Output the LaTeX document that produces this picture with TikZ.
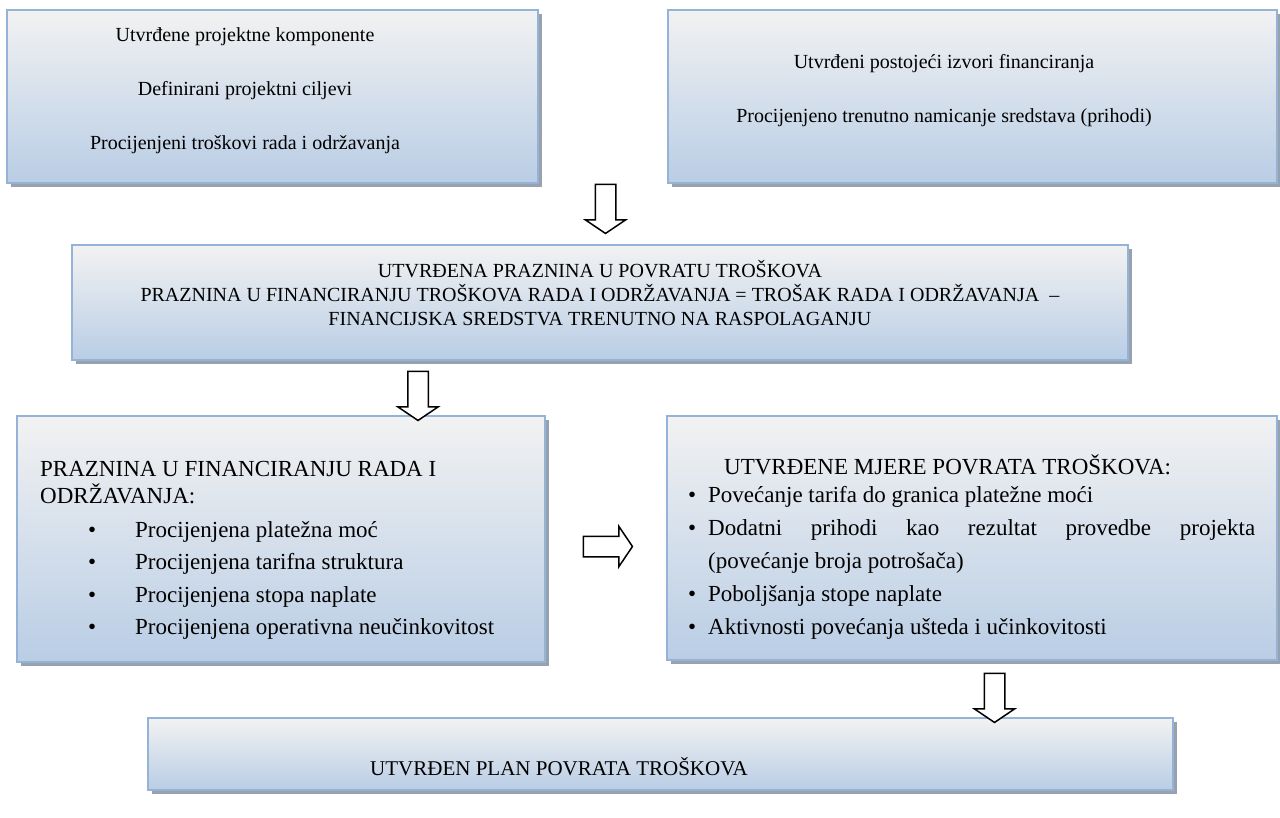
\documentclass[tikz,border=0pt]{standalone}
\usepackage{fontspec}
\setmainfont{Liberation Serif}
\usetikzlibrary{shapes.arrows,shadows}
\definecolor{bord}{HTML}{95B3D7}
\definecolor{gtop}{HTML}{F2F2F2}
\definecolor{gbot}{HTML}{B9CDE5}
\definecolor{shad}{HTML}{98A2AE}
\tikzset{
  gbox/.style={draw=bord, line width=2.5pt, top color=gtop, bottom color=gbot,
    inner sep=0pt, general shadow={fill=shad, shadow xshift=4pt, shadow yshift=-4pt}},
  ctxt/.style={inner sep=0pt, font=\fontsize{20}{24}\selectfont},
  ltxt/.style={inner sep=0pt, anchor=base west, font=\fontsize{23}{27}\selectfont},
  barrow/.style={single arrow, draw=black, line width=1.5pt, fill=white,
    inner xsep=0pt, inner ysep=9.5pt, minimum height=49pt, minimum width=39pt,
    single arrow head extend=10pt, single arrow tip angle=112}
}
\begin{document}
\begin{tikzpicture}[x=1pt,y=-1pt]
\useasboundingbox (0,0) rectangle (1280,818);
% boxes
\node[gbox, minimum width=531pt, minimum height=173pt] (b1) at (272.5,96.5) {};
\node[gbox, minimum width=609pt, minimum height=173pt] (b2) at (972.5,96.5) {};
\node[gbox, minimum width=1056pt, minimum height=115pt] (b3) at (600,302.5) {};
\node[gbox, minimum width=528pt, minimum height=246pt] (b4) at (281,539) {};
\node[gbox, minimum width=610pt, minimum height=244pt] (b5) at (972,538) {};
\node[gbox, minimum width=1025pt, minimum height=72pt] (b6) at (660.5,754) {};
% arrows
\node[barrow, rotate=-90] (a1) at (605.5,205.5) {};
\node[barrow, rotate=-90] (a2) at (418,392.5) {};
\node[barrow] (a4) at (604.5,546.5) {};
\node[barrow, rotate=-90] (a3) at (994.5,694.5) {};
% box 1 text
\node[ctxt] (t11) at (245,37) {Utvrđene projektne komponente};
\node[ctxt] (t12) at (245,91) {Definirani projektni ciljevi};
\node[ctxt] (t13) at (245,145) {Procijenjeni troškovi rada i održavanja};
% box 2 text
\node[ctxt] (t21) at (944,64) {Utvrđeni postojeći izvori financiranja};
\node[ctxt] (t22) at (944,118) {Procijenjeno trenutno namicanje sredstava (prihodi)};
% box 3 text
\node[ctxt, align=center] (t3) at (600,293) {UTVRĐENA PRAZNINA U POVRATU TROŠKOVA\\
PRAZNINA U FINANCIRANJU TROŠKOVA RADA I ODRŽAVANJA = TROŠAK RADA I ODRŽAVANJA \ –\\
FINANCIJSKA SREDSTVA TRENUTNO NA RASPOLAGANJU};
% box 4 text
\node[ltxt] (t41) at (40,476) {PRAZNINA U FINANCIRANJU RADA I};
\node[ltxt] (t42) at (40,503) {ODRŽAVANJA:};
\foreach \yy/\tt [count=\i] in {537/Procijenjena platežna moć, 569/Procijenjena tarifna struktura,
  602/Procijenjena stopa naplate, 634/Procijenjena operativna neučinkovitost}{
  \node[ltxt] (t4b\i) at (88,\yy) {•};
  \node[ltxt] (t4l\i) at (135,\yy) {\tt};
}
% box 5 text
\node[ltxt] (t50) at (724,474) {UTVRĐENE MJERE POVRATA TROŠKOVA:};
\node[ltxt] (t5b1) at (688,502) {•};
\node[ltxt] (t51) at (708,502) {Povećanje tarifa do granica platežne moći};
\node[ltxt] (t5b2) at (688,535) {•};
\node[ltxt] (t52) at (708,535) {\makebox[547pt][s]{Dodatni prihodi kao rezultat provedbe projekta}};
\node[ltxt] (t52c) at (708,568) {(povećanje broja potrošača)};
\node[ltxt] (t5b3) at (688,601) {•};
\node[ltxt] (t53) at (708,601) {Poboljšanja stope naplate};
\node[ltxt] (t5b4) at (688,634) {•};
\node[ltxt] (t54) at (708,634) {Aktivnosti povećanja ušteda i učinkovitosti};
% box 6 text
\node[ltxt, font=\fontsize{21}{25}\selectfont] (t6) at (370,775) {UTVRĐEN PLAN POVRATA TROŠKOVA};
\end{tikzpicture}
\end{document}
